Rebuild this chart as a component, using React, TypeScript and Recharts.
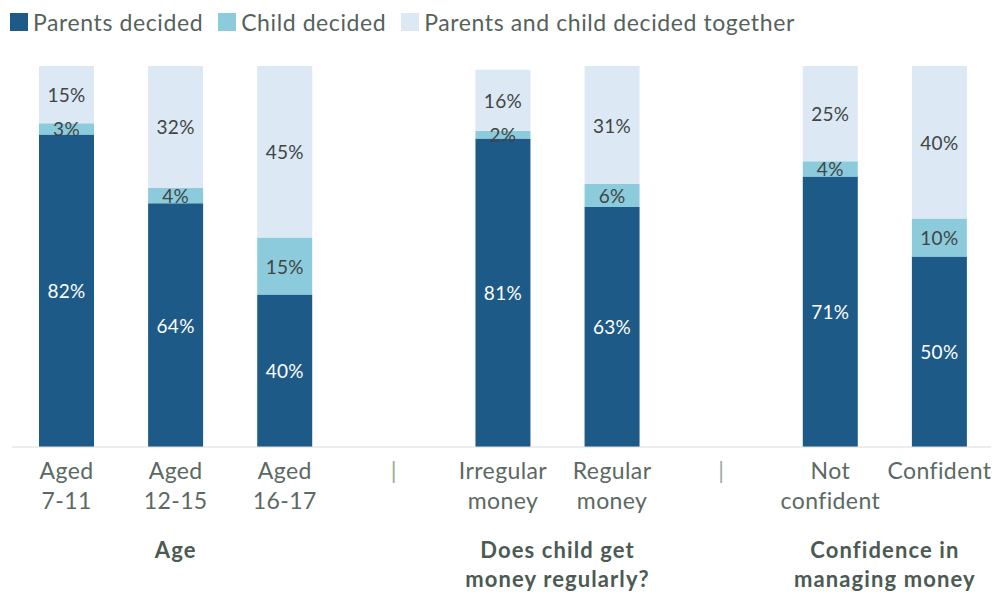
import React from 'react'
import { BarChart, Bar, XAxis, YAxis, LabelList } from 'recharts'

// category tick labels (| = group separator slots)
const tickLines: string[][] = [
  ['Aged', '7-11'],
  ['Aged', '12-15'],
  ['Aged', '16-17'],
  ['|'],
  ['Irregular', 'money'],
  ['Regular', 'money'],
  ['|'],
  ['Not', 'confident'],
  ['Confident'],
]

const parentsDecided = [82, 64, 40, null, 81, 63, null, 71, 50]
const childDecided = [3, 4, 15, null, 2, 6, null, 4, 10]
const decidedTogether = [15, 32, 45, null, 16, 31, null, 25, 40]

const groups = [
  { lines: ['Age'], from: 0, to: 2 },
  { lines: ['Does child get', 'money regularly?'], from: 4, to: 5 },
  { lines: ['Confidence in', 'managing money'], from: 7, to: 8 },
]

const seriesNames = ['Parents decided', 'Child decided', 'Parents and child decided together']
const colors = ['#1d5a87', '#8ccbdc', '#dce8f4']

const data = tickLines.map((_, i) => ({
  key: 'c' + i,
  parents: parentsDecided[i],
  child: childDecided[i],
  together: decidedTogether[i],
}))

const W = 991
const H = 586
const M = { top: 58, right: 5, left: 4, bottom: 0 }
const band = (W - M.left - M.right) / tickLines.length
const FONT = 'Lato, "Open Sans", sans-serif'

const CatTick = (props: any) => {
  const { x, y, payload } = props
  const i = payload.index
  const lines = tickLines[i] || []
  const g = groups.find(gr => gr.to === i)
  return (
    <g>
      {lines.map((l, k) => (
        <text key={k} x={x} y={y + 15 + k * 30} textAnchor="middle" dominantBaseline="central"
          fill={l === '|' ? '#9aa5a0' : '#5b6963'} fontSize={23} letterSpacing={0.4} fontFamily={FONT}>
          {l}
        </text>
      ))}
      {g && g.lines.map((l, k) => (
        <text key={'g' + k} x={x - band * (g.to - g.from) / 2} y={y + 94 + k * 29} textAnchor="middle"
          dominantBaseline="central" fill="#4b5a53" fontSize={22} letterSpacing={1.1} fontWeight={700} fontFamily={FONT}>
          {l}
        </text>
      ))}
    </g>
  )
}

const makeLabel = (color: string) => (props: any) => {
  const { x, y, width, height, value } = props
  if (value == null) return null
  return (
    <text x={x + width / 2} y={y + height / 2} textAnchor="middle" dominantBaseline="central"
      fill={color} fontSize={19} letterSpacing={0.3} fontFamily={FONT}>
      {value + '%'}
    </text>
  )
}

const LegendRow = () => (
  <div style={{ position: 'absolute', left: 2, top: 0, display: 'flex', alignItems: 'center', fontFamily: FONT, fontSize: 23, letterSpacing: 0.6, color: '#55625c' }}>
    {seriesNames.map((n, i) => (
      <div key={n} style={{ display: 'flex', alignItems: 'center', marginRight: 15 }}>
        <div style={{ width: 18, height: 18, background: colors[i], marginRight: 5 }} />
        <span>{n}</span>
      </div>
    ))}
  </div>
)

export default function App() {
  return (
    <div style={{ position: 'relative', width: W, height: H }}>
      <LegendRow />
      <BarChart width={W} height={H} data={data} margin={M} barSize={55}>
        <XAxis dataKey="key" interval={0} tickLine={false} axisLine={{ stroke: '#d9dcdc' }}
          height={147} tick={<CatTick />} />
        <YAxis hide domain={[0, 100]} />
        <Bar dataKey="parents" stackId="a" fill={colors[0]} isAnimationActive={false}>
          <LabelList dataKey="parents" content={makeLabel('#ffffff')} />
        </Bar>
        <Bar dataKey="child" stackId="a" fill={colors[1]} isAnimationActive={false}>
          <LabelList dataKey="child" content={makeLabel('#404545')} />
        </Bar>
        <Bar dataKey="together" stackId="a" fill={colors[2]} isAnimationActive={false}>
          <LabelList dataKey="together" content={makeLabel('#404545')} />
        </Bar>
      </BarChart>
    </div>
  )
}
